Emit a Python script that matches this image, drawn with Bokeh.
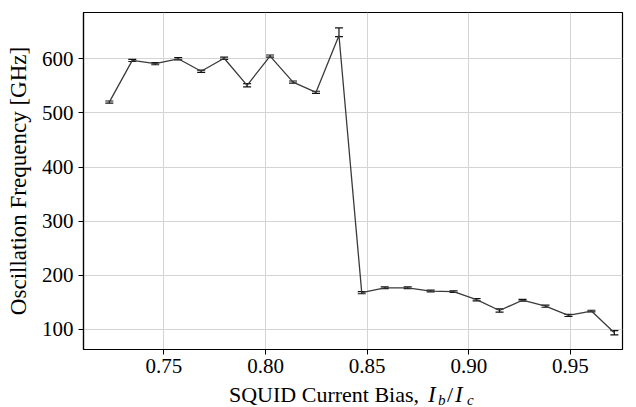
from bokeh.plotting import figure
from bokeh.models import (ColumnDataSource, Whisker, TeeHead, FixedTicker,
                          NumeralTickFormatter, Range1d, Div)
from bokeh.layouts import column
from bokeh.embed import file_html
from bokeh.resources import INLINE

# ---- data ----
bias = [0.7231, 0.7344, 0.7457, 0.7570, 0.7683, 0.7796, 0.7909, 0.8022,
        0.8135, 0.8248, 0.8361, 0.8473, 0.8586, 0.8699, 0.8812, 0.8925,
        0.9038, 0.9151, 0.9264, 0.9377, 0.9490, 0.9603, 0.9716]
freq = [520, 597, 591, 600, 577, 601, 551, 605, 557, 538, 643,
        168, 177, 177, 171, 170, 155, 135, 154, 143, 126, 134, 94]
err_low = [2, 2, 2, 2, 2, 2, 3, 2, 2, 2, 2,
           2, 1.5, 1.5, 1.5, 1.5, 2, 3, 1.5, 2, 2, 1.5, 4]
err_high = [2, 2, 2, 2, 2, 2, 3, 2, 2, 2, 14,
            2, 1.5, 1.5, 1.5, 1.5, 2, 3, 1.5, 2, 2, 1.5, 4]
x_ticks = [0.75, 0.80, 0.85, 0.90, 0.95]
y_ticks = [100, 200, 300, 400, 500, 600]
x_label_text = "SQUID Current Bias,"
y_label_text = "Oscillation Frequency [GHz]"

src = ColumnDataSource(dict(
    x=bias, y=freq,
    lower=[f - e for f, e in zip(freq, err_low)],
    upper=[f + e for f, e in zip(freq, err_high)],
))

FONT = "Liberation Serif"

p = figure(frame_width=539, frame_height=337,
           x_range=Range1d(0.7104, 0.9756), y_range=Range1d(63, 685.5),
           output_backend="svg", toolbar_location=None,
           min_border_left=83, min_border_right=14,
           min_border_top=12, min_border_bottom=36)

p.background_fill_color = "white"
p.border_fill_color = "white"
p.outline_line_color = "black"
p.outline_line_width = 1.2
p.outline_line_alpha = 1

# grid
p.grid.grid_line_color = "#d4d4d4"
p.grid.grid_line_width = 1

# axes
p.xaxis.ticker = FixedTicker(ticks=x_ticks)
p.yaxis.ticker = FixedTicker(ticks=y_ticks)
p.xaxis.formatter = NumeralTickFormatter(format="0.00")
for ax in (p.xaxis, p.yaxis):
    ax.axis_line_color = "black"
    ax.axis_line_width = 1.2
    ax.major_tick_line_color = "black"
    ax.major_tick_line_width = 1
    ax.major_tick_in = 0
    ax.major_tick_out = 5
    ax.minor_tick_line_color = None
    ax.major_label_text_font = FONT
    ax.major_label_text_font_size = "21px"
    ax.major_label_text_color = "black"
    ax.axis_label_text_font = FONT
    ax.axis_label_text_font_size = "23px"
    ax.axis_label_text_font_style = "normal"
    ax.axis_label_text_color = "black"
p.xaxis.major_label_standoff = 4
p.yaxis.major_label_standoff = 5
p.yaxis.axis_label = y_label_text
p.yaxis.axis_label_standoff = 8

# data line and error bars
p.line("x", "y", source=src, line_color="#3a3a3a", line_width=1.3)
w = Whisker(base="x", upper="upper", lower="lower", source=src,
            line_color="#111111", line_width=1.2,
            upper_head=TeeHead(size=8, line_color="#111111", line_width=1.2),
            lower_head=TeeHead(size=8, line_color="#111111", line_width=1.2))
p.add_layout(w)

# x-axis label with italic subscripts, as real HTML text under the plot
ib = "display:inline-block;vertical-align:baseline;"
sub = ("display:inline-block;vertical-align:baseline;position:relative;"
       "top:3px;font-size:15px;font-style:italic;")
label_html = (
    f'<div style="font-family:\'{FONT}\',serif;font-size:22px;line-height:20px;'
    'color:black;white-space:nowrap;padding-left:229px;margin:0;">'
    f'<span style="{ib}width:199px;">{x_label_text}</span>'
    f'<span style="{ib}width:10px;font-style:italic;font-size:23px;">I</span>'
    f'<span style="{sub}width:9px;">b</span>'
    f'<span style="{ib}width:8px;">/</span>'
    f'<span style="{ib}width:12px;font-style:italic;font-size:23px;">I</span>'
    f'<span style="{sub}">c</span>'
    '</div>'
)
xlabel = Div(text=label_html, width=636, height=22, margin=0)

layout = column(p, xlabel, spacing=0)
open("out.html", "w").write(file_html(layout, INLINE))
